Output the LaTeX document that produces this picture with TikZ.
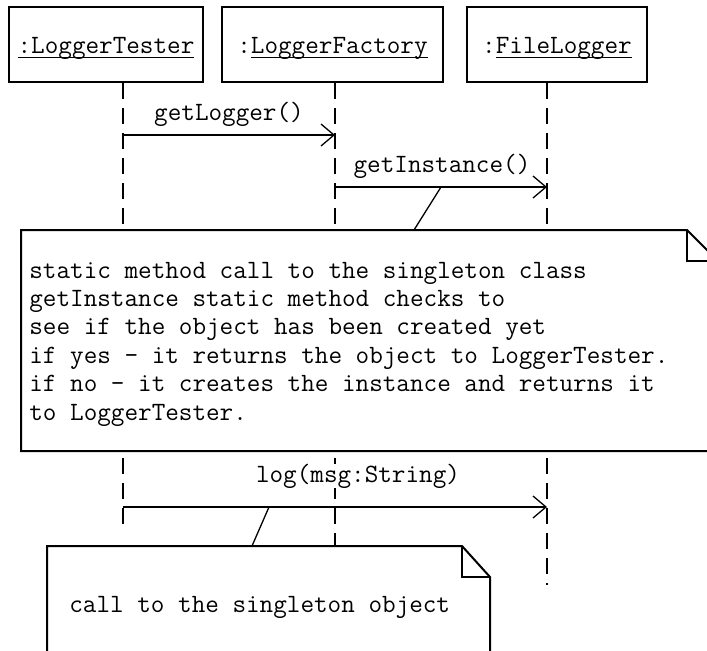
\documentclass[tikz,border=0pt]{standalone}
\usetikzlibrary{arrows.meta,positioning}

\newcommand{\umlfont}{\ttfamily\fontsize{13.2}{14.2}\selectfont}
\newcommand{\objname}[1]{\setbox0\hbox{#1}\rlap{\rule[-2.2pt]{\wd0}{0.7pt}}\box0}

\begin{document}
\begin{tikzpicture} [
    x=0.5pt, y=-0.5pt,
    obj/.style={rectangle, draw, line width=1pt, minimum height=37.5pt, inner sep=0pt, text height=11pt, text depth=2pt, font=\umlfont},
    life/.style={line width=0.65pt, dash pattern=on 8pt off 4.5pt},
    msg/.style={line width=0.65pt, -{Straight Barb[length=6.5pt,width=11pt]}},
    lbl/.style={anchor=base, inner sep=0pt, fill=white, font=\umlfont},
    note/.style={line width=1pt, fill=white},
    notetext/.style={anchor=base west, inner sep=0pt, align=left, font=\umlfont}
]
\clip (0,0) rectangle (707,650);

% Objects
\node[obj, minimum width=97pt] (tester) at (106,44.5) {\objname{:LoggerTester}};
\node[obj, minimum width=110.5pt] (factory) at (332.5,44.5) {:\objname{LoggerFactory}};
\node[obj, minimum width=90pt] (filelog) at (557,44.5) {:\objname{FileLogger}};

% Lifelines
\coordinate (testerEnd) at (123,532);
\coordinate (factoryEnd) at (335,546);
\coordinate (filelogEnd) at (547,585);
\draw[life] (tester.south -| testerEnd) -- (testerEnd);
\draw[life] (factory.south -| factoryEnd) -- (factoryEnd);
\draw[life] (filelog.south -| filelogEnd) -- (filelogEnd);

% Messages
\coordinate (getLoggerA) at (123,135);
\coordinate (getLoggerB) at (335,135);
\coordinate (getInstA) at (335,187);
\coordinate (getInstB) at (547,187);
\coordinate (logA) at (123,507);
\coordinate (logB) at (547,507);
\draw[msg] (getLoggerA) -- (getLoggerB);
\draw[msg] (getInstA) -- (getInstB);
\draw[msg] (logA) -- (logB);
\node[lbl] (getLoggerLbl) at (229,120) {getLogger()};
\node[lbl] (getInstLbl) at (442,172) {getInstance()};
\node[lbl] (logLbl) at (358,482) {log(msg:String)};

% Notes
\coordinate (instAnchor) at (441,187);
\coordinate (instNote) at (414,230);
\draw[line width=0.65pt] (instAnchor) -- (instNote);
\draw[note] (21,230) -- (687,230) -- (718,261) -- (718,451) -- (21,451) -- cycle;
\draw[line width=1pt] (687,230) -- (687,261) -- (718,261);
\node[notetext] (instText) at (29,420) {static method call to the singleton class\\
getInstance static method checks to\\
see if the object has been created yet\\
if yes - it returns the object to LoggerTester.\\
if no - it creates the instance and returns it\\
to LoggerTester.};

\coordinate (logAnchor) at (269,507);
\coordinate (logNote) at (252,546);
\draw[line width=0.65pt] (logAnchor) -- (logNote);
\draw[note] (47,546) -- (462,546) -- (490,577) -- (490,660) -- (47,660) -- cycle;
\draw[line width=1pt] (462,546) -- (462,577) -- (490,577);
\node[notetext] (logText) at (69,612) {call to the singleton object};

\end{tikzpicture}
\end{document}
